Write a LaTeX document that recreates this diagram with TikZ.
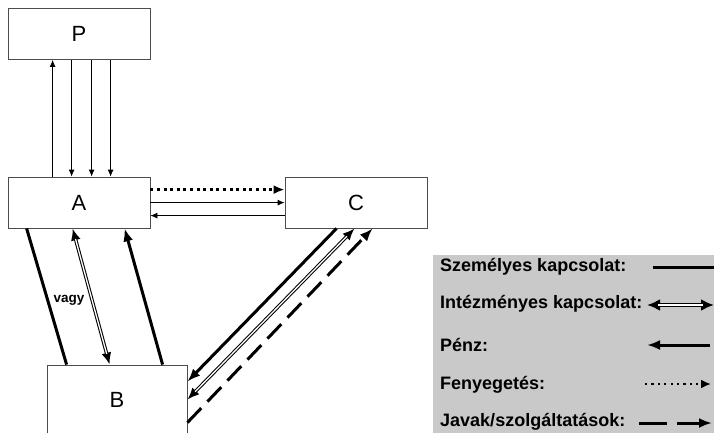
\documentclass[tikz,border=0pt]{standalone}
\usepackage{fontspec}
\setmainfont{Liberation Sans}
\usetikzlibrary{arrows.meta}

\tikzset{
  box/.style={draw=black!70, line width=0.8pt, minimum width=142pt, minimum height=51pt,
    inner sep=0pt, font=\fontsize{22}{24}\selectfont},
  vekony/.style={line width=0.8pt, -{Latex[length=7pt,width=6pt]}},
  kapcs/.style={line width=3pt},
  penz/.style={line width=3pt, -{Latex[length=13pt,width=10pt]}},
  intez/.style={line width=3.4pt, {Latex[length=12pt,width=10pt]}-{Latex[length=12pt,width=10pt]},
    postaction={draw=white, line width=1.3pt, -, shorten >=11pt, shorten <=11pt}},
  fenyeg/.style={line width=3pt, dash pattern=on 3pt off 3.6pt,
    -{Latex[length=11pt,width=9pt]}},
  javak/.style={line width=3pt, dash pattern=on 20pt off 9pt,
    -{Latex[length=13pt,width=10pt]}},
  jelmagy/.style={anchor=west, inner sep=0pt, font=\fontsize{18}{20}\selectfont\bfseries}
}

\begin{document}
\begin{tikzpicture}[x=1pt,y=-1pt]
\useasboundingbox (0,0) rectangle (714,433);
\clip (0,0) rectangle (714,433);

% boxes
\node[box] (P) at (79,34) {P};
\node[box] (A) at (79,202.5) {A};
\node[box] (C) at (356,202.5) {C};
\node[box, minimum width=140pt, minimum height=70pt] (B) at (117,400) {B};

% P and A
\draw[vekony] ([xshift=45pt]A.north west) -- ([xshift=45pt]P.south west);
\foreach \dx in {64,84,103}
  \draw[vekony] ([xshift=\dx pt]P.south west) -- ([xshift=\dx pt]A.north west);

% A and C
\draw[fenyeg] ([yshift=-13pt]A.north east) -- ([yshift=-13pt]C.north west);
\draw[vekony] ([yshift=-26pt]A.north east) -- ([yshift=-26pt]C.north west);
\draw[vekony] ([yshift=-39pt]C.north west) -- ([yshift=-39pt]A.north east);

% A and B
\draw[kapcs] ([xshift=19pt]A.south west) -- ([xshift=20pt]B.north west);
\draw[intez] ([xshift=65pt]A.south west) -- ([xshift=63pt]B.north west);
\draw[penz] ([xshift=116pt]B.north west) -- ([xshift=117pt]A.south west);
\node[inner sep=0pt, font=\fontsize{13.5}{15}\selectfont\bfseries] (vagy) at (69,300) {vagy};

% C and B
\draw[penz] ([xshift=52pt]C.south west) -- ([yshift=-17pt]B.north east);
\draw[intez] ([xshift=70pt]C.south west) -- ([yshift=-35pt]B.north east);
\draw[javak] ([yshift=-58pt]B.north east) -- ([xshift=88pt]C.south west);

% legend
\fill[black!21] (433,255) rectangle (714,433);
\node[jelmagy] (l1) at (440,267) {Személyes kapcsolat:};
\node[jelmagy] (l2) at (440,304) {Intézményes kapcsolat:};
\node[jelmagy] (l3) at (440,345) {Pénz:};
\node[jelmagy] (l4) at (440,385) {Fenyegetés:};
\node[jelmagy] (l5) at (440,422) {Javak/szolgáltatások:};
\coordinate (k1a) at (653,267); \coordinate (k1b) at (714,267);
\coordinate (k2a) at (647,305); \coordinate (k2b) at (714,305);
\coordinate (k3a) at (710,345); \coordinate (k3b) at (647,345);
\coordinate (k4a) at (645,384); \coordinate (k4b) at (711,384);
\coordinate (k5a) at (639,423); \coordinate (k5b) at (712,423);
\draw[kapcs] (k1a) -- (k1b);
\draw[intez, {Latex[length=13pt,width=12pt]}-{Latex[length=13pt,width=12pt]}] (k2a) -- (k2b);
\draw[penz] (k3a) -- (k3b);
\draw[fenyeg, line width=2.2pt, dash pattern=on 2.2pt off 4.2pt, -{Latex[length=10pt,width=9pt]}] (k4a) -- (k4b);
\draw[javak, dash pattern=on 28pt off 10pt] (k5a) -- (k5b);
\end{tikzpicture}
\end{document}
